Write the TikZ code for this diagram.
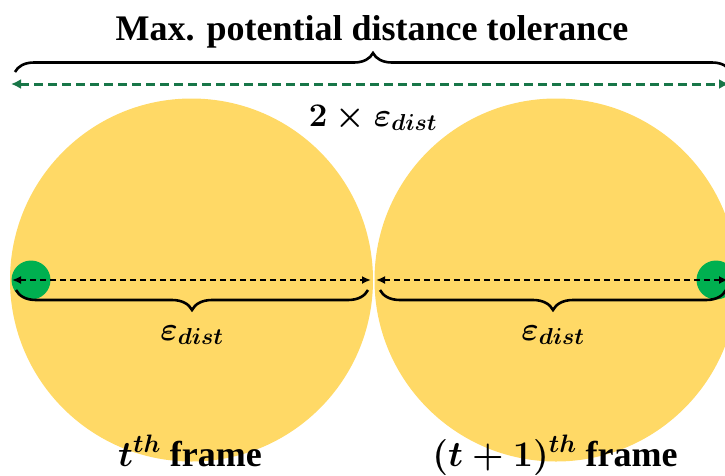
\RequirePackage{fix-cm}
\documentclass[tikz,border=0pt]{standalone}
\usepackage{fontspec}
\usepackage{amsmath}
\setmainfont{Liberation Serif}
\usetikzlibrary{decorations.pathreplacing,arrows.meta}
\definecolor{goldy}{RGB}{255,217,102}
\definecolor{dotgreen}{RGB}{0,176,80}
\definecolor{dashgreen}{RGB}{24,118,72}
\tikzset{
  zone/.style={fill=goldy, draw=none},
  dotc/.style={fill=dotgreen, draw=none},
  bigtxt/.style={font=\fontsize{36}{40}\selectfont\bfseries\boldmath, inner sep=0pt},
  mtxt/.style={font=\fontsize{33}{38}\selectfont\bfseries\boldmath, inner sep=0pt},
  blackdash/.style={draw=black, line width=1.8pt, dash pattern=on 6pt off 4pt, {Latex[length=9pt,width=8pt]}-{Latex[length=9pt,width=8pt]}},
  greendash/.style={draw=dashgreen, line width=3pt, dash pattern=on 9pt off 5pt, {Latex[length=10pt,width=10pt]}-{Latex[length=10pt,width=10pt]}},
  bracedown/.style={draw=black, line width=2.6pt, decorate, decoration={brace, mirror, amplitude=20pt}},
  braceup/.style={draw=black, line width=2.6pt, decorate, decoration={brace, amplitude=19pt}},
}
\begin{document}
\begin{tikzpicture}[x=1pt,y=-1pt]
\useasboundingbox (0,0) rectangle (725,475);
\clip (0,0) rectangle (725,475);
% circles
\fill[zone] (191.5,280) circle (181.5);
\fill[zone] (556,280) circle (181.5);
% dots
\node[dotc, circle, minimum size=39pt, inner sep=0pt] (dl) at (31,280) {};
\node[dotc, circle, minimum size=39pt, inner sep=0pt] (dr) at (716,280) {};
% coordinates
\coordinate (la) at (12,280);
\coordinate (lb) at (371,280);
\coordinate (ra) at (376,280);
\coordinate (rb) at (728,280);
\coordinate (ga) at (11,84);
\coordinate (gb) at (729,84);
\coordinate (tbl) at (15,72);
\coordinate (tbr) at (731,72);
\coordinate (lbl) at (16,290);
\coordinate (lbr) at (368,290);
\coordinate (rbl) at (380,290);
\coordinate (rbr) at (726,290);
% arrows
\draw[blackdash] (la) -- (lb);
\draw[blackdash] (ra) -- (rb);
\draw[greendash] (ga) -- (gb);
% braces
\draw[braceup] (tbl) -- (tbr);
\draw[bracedown] (lbl) -- (lbr);
\draw[bracedown] (rbl) -- (rbr);
% texts
\node[bigtxt, anchor=base] (title) at (372,40) {Max. potential distance tolerance};
\node[mtxt, anchor=base] (two) at (373,126) {$2\times\varepsilon_{dist}$};
\node[mtxt, anchor=base] (el) at (192,340) {$\varepsilon_{dist}$};
\node[mtxt, anchor=base] (er) at (553,340) {$\varepsilon_{dist}$};
\node[bigtxt, anchor=base] (fl) at (190,466) {$t^{th}$ frame};
\node[bigtxt, anchor=base] (fr) at (555,466) {$(t+1)^{th}$ frame};
\end{tikzpicture}
\end{document}
